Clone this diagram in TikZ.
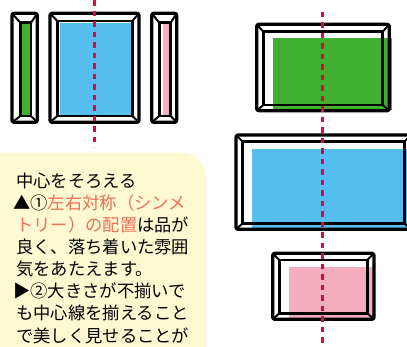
\documentclass[tikz,border=0pt]{standalone}
\usepackage{fontspec}
\newfontfamily\jpfont{Noto Sans CJK JP}
\definecolor{fgreen}{HTML}{40B030}
\definecolor{fblue}{HTML}{55BEEF}
\definecolor{fpink}{HTML}{F4AEC0}
\definecolor{fred}{HTML}{DC0A3C}
\definecolor{fyellow}{HTML}{FFF9D2}
\definecolor{fcoral}{HTML}{EE6F57}
\begin{document}
\begin{tikzpicture}[x=1pt,y=-1pt,
  outerline/.style={line width=3.2pt,rounded corners=2pt,line join=round},
  innerline/.style={line width=2.6pt,line join=miter},
  diagline/.style={line width=2pt},
  axisline/.style={fred,line width=2.9pt,dash pattern=on 5.5pt off 5pt},
  txt/.style={anchor=base west,inner sep=0pt,font=\jpfont\fontsize{17.3pt}{22pt}\selectfont}]
\useasboundingbox (0,0) rectangle (407,346);
\clip (0,0) rectangle (407,346);
% left group
\fill[fgreen] (21.7,23.3) rectangle (30.7,115);
\draw[outerline] (12,13.3) rectangle (37.3,122.3);
\draw[innerline] (20.3,22.7) rectangle (31,116);
\draw[diagline] (12,13.3) -- (20.3,22.7) (37.3,13.3) -- (31,22.7) (12,122.3) -- (20.3,116) (37.3,122.3) -- (31,116);
\fill[fblue] (60,23.3) rectangle (131.7,115);
\draw[outerline] (50,13.3) rectangle (139,122.3);
\draw[innerline] (57.3,21) rectangle (132.3,116);
\draw[diagline] (50,13.3) -- (57.3,21) (139,13.3) -- (132.3,21) (50,122.3) -- (57.3,116) (139,122.3) -- (132.3,116);
\fill[fpink] (162.7,23.3) rectangle (172.3,115);
\draw[outerline] (151.7,13.3) rectangle (176.7,122.3);
\draw[innerline] (159.3,22.7) rectangle (170.7,116);
\draw[diagline] (151.7,13.3) -- (159.3,22.7) (176.7,13.3) -- (170.7,22.7) (151.7,122.3) -- (159.3,116) (176.7,122.3) -- (170.7,116);
% right group
\fill[fgreen] (272.7,37.7) rectangle (391.7,110);
\draw[outerline] (256.7,24.3) rectangle (389.3,110.7);
\draw[innerline] (263.3,31.7) rectangle (382.7,105);
\draw[diagline] (256.7,24.3) -- (263.3,31.7) (389.3,24.3) -- (382.7,31.7) (256.7,110.7) -- (263.3,105) (389.3,110.7) -- (382.7,105);
\fill[fblue] (251.7,149.3) rectangle (412,228.3);
\draw[outerline] (236,135) rectangle (411,229.3);
\draw[innerline] (242.7,141.7) rectangle (404.3,223.3);
\draw[diagline] (236,135) -- (242.7,141.7) (411,135) -- (404.3,141.7) (236,229.3) -- (242.7,223.3) (411,229.3) -- (404.3,223.3);
\fill[fpink] (289,266.7) rectangle (375,318.3);
\draw[outerline] (272.7,253.3) rectangle (374,319.3);
\draw[innerline] (279.3,260) rectangle (367.3,313.3);
\draw[diagline] (272.7,253.3) -- (279.3,260) (374,253.3) -- (367.3,260) (272.7,319.3) -- (279.3,313.3) (374,319.3) -- (367.3,313.3);
% axis lines
\coordinate (la) at (94.3,0);
\coordinate (lb) at (94.3,147);
\coordinate (ra) at (322.7,11.5);
\coordinate (rb) at (322.7,346);
\draw[axisline] (la) -- (lb);
\draw[axisline] (ra) -- (rb);
% text box
\fill[fyellow,rounded corners=24pt] (-30,152.7) rectangle (206,400);
\node[txt] (t1) at (16,187) {中心をそろえる};
\node[txt] (t2) at (13,209.1) {▲①\textcolor{fcoral}{左右対称（シンメ}};
\node[txt] (t3) at (16,231.3) {\textcolor{fcoral}{トリー）の配置}は品が};
\node[txt] (t4) at (16,253.4) {良く、落ち着いた雰囲};
\node[txt] (t5) at (16,275.6) {気をあたえます。};
\node[txt] (t6) at (13,297.7) {▶②大きさが不揃いで};
\node[txt] (t7) at (16,319.9) {も中心線を揃えること};
\node[txt] (t8) at (16,342) {で美しく見せることが};
\end{tikzpicture}
\end{document}
